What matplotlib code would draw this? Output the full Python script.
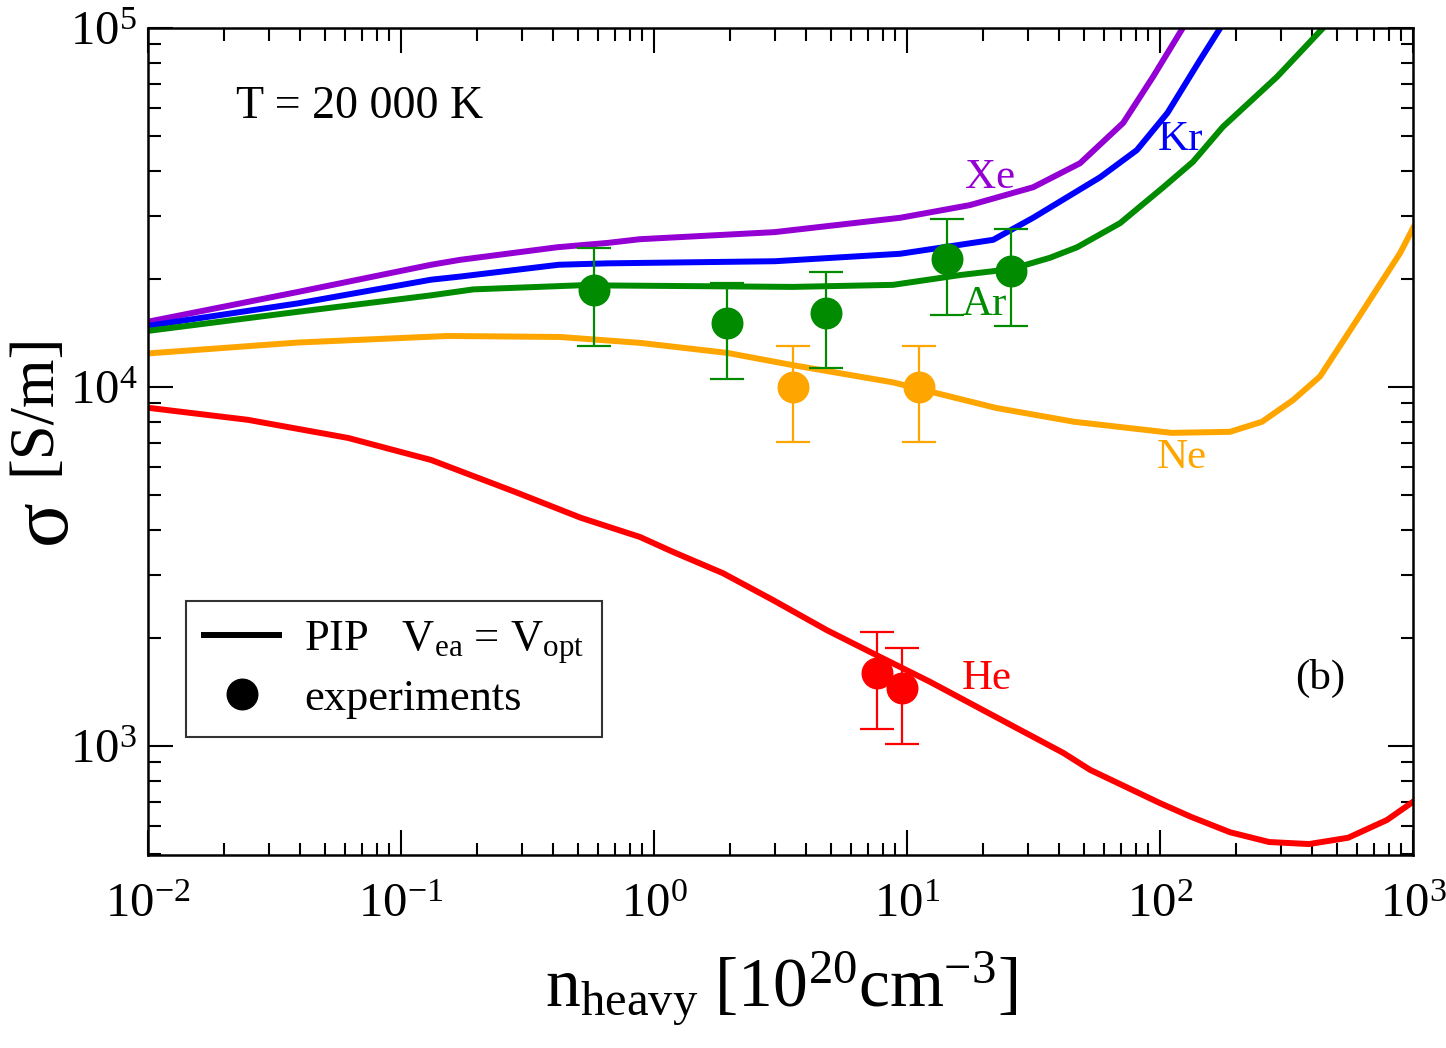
import numpy as np
import matplotlib.pyplot as plt
from matplotlib.lines import Line2D

plt.rcParams['font.family'] = ['Liberation Serif', 'DejaVu Serif']
plt.rcParams['mathtext.fontset'] = 'custom'
plt.rcParams['mathtext.rm'] = 'Liberation Serif'
plt.rcParams['mathtext.it'] = 'Liberation Serif:italic'
plt.rcParams['axes.unicode_minus'] = False

# PIP curves, V_ea = V_opt
xe_n = [0.01, 0.0392, 0.1315, 0.171, 0.414, 0.658, 0.88, 3.0, 9.4, 17.7, 31.5, 48.3, 71.5, 93.8, 123]
xe_s = [15200, 18400, 21900, 22600, 24500, 25200, 25800, 27000, 29600, 32100, 36000, 42000, 54400, 73100, 100000]

kr_n = [0.01, 0.0392, 0.1315, 0.171, 0.42, 0.658, 3.0, 9.4, 21.9, 31.5, 58, 81, 107, 144, 173]
kr_s = [14800, 17100, 19900, 20300, 21900, 22100, 22400, 23500, 25700, 29600, 38400, 45700, 58000, 81500, 100000]

ar_n = [0.01, 0.0392, 0.1315, 0.193, 0.514, 3.54, 8.8, 16.2, 25.8, 36.7, 47, 69.5, 103, 135, 177, 290, 441]
ar_s = [14330, 16200, 18000, 18700, 19200, 19000, 19250, 20500, 21300, 22900, 24500, 28600, 36000, 42400, 53000, 73100, 100000]

ne_n = [0.01, 0.0392, 0.153, 0.425, 0.88, 1.95, 3.54, 8.8, 22.5, 45.7, 111, 189, 253, 336, 429, 601, 889, 1000]
ne_s = [12400, 13300, 13870, 13780, 13270, 12440, 11500, 10300, 8740, 8000, 7450, 7500, 8000, 9200, 10700, 15400, 23600, 27700]

he_n = [0.01, 0.0248, 0.0618, 0.1315, 0.2825, 0.514, 0.88, 1.19, 1.87, 2.95, 4.83, 7.82, 12.3, 24.8,
        41.4, 52.9, 100, 133, 189, 270, 388, 554, 789, 1000]
he_s = [8750, 8100, 7210, 6260, 5100, 4320, 3820, 3470, 3030, 2550, 2100, 1770, 1510, 1160,
        957, 858, 693, 634, 575, 540, 533, 555, 622, 699]

# experiments
ar_exp_n = [0.58, 1.95, 4.79, 14.4, 25.8]
ar_exp_s = [18600, 15100, 16100, 22700, 21000]
ar_exp_lo = [13000, 10520, 11300, 15900, 14800]
ar_exp_hi = [24400, 19500, 20900, 29400, 27500]

ne_exp_n = [3.54, 11.1]
ne_exp_s = [10000, 10000]
ne_exp_lo = [7020, 7020]
ne_exp_hi = [13000, 13000]

he_exp_n = [7.6, 9.55]
he_exp_s = [1600, 1452]
he_exp_lo = [1115, 1013]
he_exp_hi = [2080, 1875]

c_xe = '#9400d3'
c_kr = '#0000ff'
c_ar = '#008b00'
c_ne = '#ffa500'
c_he = '#ff0000'

fig = plt.figure(figsize=(14.46, 10.48), dpi=100)
ax = fig.add_axes([0.1024, 0.1842, 0.8748, 0.7891])

lw = 4.3
ax.plot(xe_n, xe_s, color=c_xe, lw=lw)
ax.plot(kr_n, kr_s, color=c_kr, lw=lw)
ax.plot(ar_n, ar_s, color=c_ar, lw=lw)
ax.plot(ne_n, ne_s, color=c_ne, lw=lw)
ax.plot(he_n, he_s, color=c_he, lw=lw)

def exp_points(n, s, lo, hi, col):
    s = np.array(s)
    yerr = [s - np.array(lo), np.array(hi) - s]
    ax.errorbar(n, s, yerr=yerr, fmt='o', color=col, ms=22, ecolor=col,
                elinewidth=1.6, capsize=12.5, capthick=1.6, zorder=5)

exp_points(ar_exp_n, ar_exp_s, ar_exp_lo, ar_exp_hi, c_ar)
exp_points(ne_exp_n, ne_exp_s, ne_exp_lo, ne_exp_hi, c_ne)
exp_points(he_exp_n, he_exp_s, he_exp_lo, he_exp_hi, c_he)

ax.set_xscale('log')
ax.set_yscale('log')
ax.set_xlim(1e-2, 1e3)
ax.set_ylim(497, 1e5)

ax.tick_params(which='both', direction='in', top=True, right=True, width=1.5)
ax.tick_params(which='major', length=18, labelsize=35)
ax.tick_params(axis='x', which='major', pad=20)
ax.tick_params(axis='y', which='major', pad=8)
ax.tick_params(which='minor', length=9)
for sp in ax.spines.values():
    sp.set_linewidth(1.8)

ax.set_xlabel(r'$\mathregular{n_{heavy}\ [10^{20}cm^{-3}]}$', fontsize=50)
ax.xaxis.set_label_coords(0.5, -0.115)

# y label: large sigma plus unit
fig.text(0.031, 0.502, 'σ', fontsize=60, rotation=90, ha='center', va='center')
fig.text(0.024, 0.615, '[S/m]', fontsize=45, rotation=90, ha='center', va='center')

fs = 31
ax.text(16.9, 38200, 'Xe', color=c_xe, fontsize=fs, ha='left', va='center')
ax.text(98, 48800, 'Kr', color=c_kr, fontsize=fs, ha='left', va='center')
ax.text(16.5, 16900, 'Ar', color=c_ar, fontsize=fs, ha='left', va='center')
ax.text(97, 6340, 'Ne', color=c_ne, fontsize=fs, ha='left', va='center')
ax.text(16.5, 1540, 'He', color=c_he, fontsize=fs, ha='left', va='center')
ax.text(430, 1540, '(b)', color='black', fontsize=fs, ha='center', va='center')
ax.text(0.0222, 60500, 'T = 20 000 K', color='black', fontsize=33, ha='left', va='center')

handles = [Line2D([], [], color='black', lw=4.3),
           Line2D([], [], color='black', marker='o', ls='none', ms=22)]
labels = [r'PIP   V$_{\mathregular{ea}}$ = V$_{\mathregular{opt}}$', 'experiments']
leg = ax.legend(handles, labels, loc='upper left', bbox_to_anchor=(0.030, 0.307),
                fontsize=32, frameon=True, fancybox=False, edgecolor='black',
                handlelength=1.7, handletextpad=0.55, borderpad=0.4,
                labelspacing=0.3, borderaxespad=0)
leg.get_frame().set_linewidth(1.5)

fig.savefig('out.png', dpi=100)
